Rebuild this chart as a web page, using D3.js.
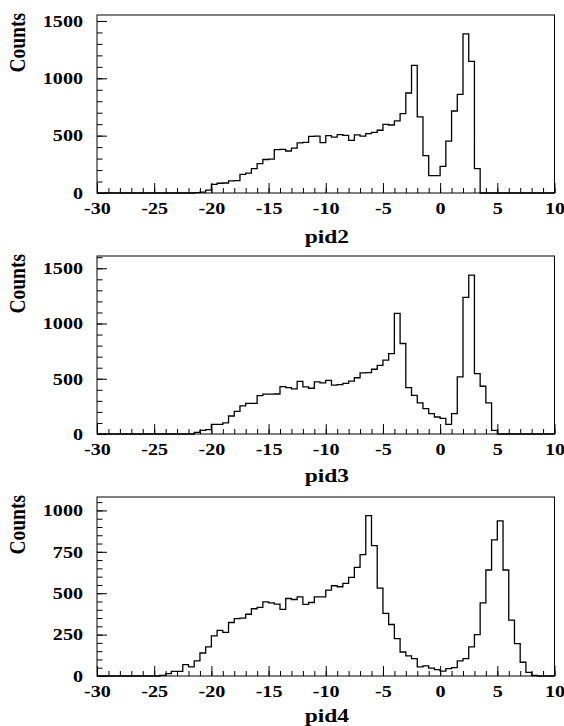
<!DOCTYPE html>
<html><head><meta charset="utf-8">
<script src="https://cdn.jsdelivr.net/npm/d3@7"></script>
<style>
body{margin:0;background:#fff}
svg text{font-family:"Liberation Serif","Times New Roman",serif;font-weight:bold;fill:#000}
</style></head><body>
<svg id="c" width="564" height="726"></svg>
<script>
// ---- data ----
const xDomain = [-30, 10];
const xTicks = [-30, -25, -20, -15, -10, -5, 0, 5, 10];
const binWidth = 0.5;
// counts per 0.5-wide bin, from -30 to 10 (80 bins)
const pid2Counts = [
  0,0,0,0,0,0,0,0,0,0, 0,0,0,0,0,0,0,3,8,25,
  75,85,87,105,108,163,174,212,256,292, 296,378,380,366,392,437,441,494,496,439,
  500,488,509,503,459,506,496,518,529,547, 599,593,628,692,872,1113,663,326,151,151,
  233,453,715,860,1387,1148,212,0,0,0, 0,0,0,0,0,0,0,0,0,0
];
const pid3Counts = [
  0,0,0,0,0,0,0,0,0,0, 0,0,0,0,0,0,0,15,33,39,
  88,88,100,163,205,254,278,278,347,360, 360,362,429,420,408,477,426,414,471,462,
  486,443,447,459,478,509,553,555,586,622, 668,728,1091,819,420,350,281,230,184,154,
  142,88,184,517,1236,1438,547,432,281,33, 0,0,0,0,0,0,0,0,0,0
];
const pid4Counts = [
  0,0,0,0,0,0,0,0,0,0, 0,4,14,28,28,69,55,91,139,176,
  242,276,264,323,347,349,373,406,414,448, 442,434,402,468,462,478,432,444,478,478,
  519,545,539,559,596,656,733,969,787,531, 378,311,226,145,121,105,55,61,48,38,
  30,44,50,91,105,176,250,442,640,822, 937,640,337,196,83,22,3,0,0,0
];
const yTicks2 = [0, 500, 1000, 1500];
const yTicks3 = [0, 500, 1000, 1500];
const yTicks4 = [0, 250, 500, 750, 1000];
const titles = ["pid2", "pid3", "pid4"];
const yLabel = "Counts";

// ---- layout ----
const panels = [
  {counts: pid2Counts, ticks: yTicks2, minor: 100, yMax: 1552, top: 15,  bottom: 193, titleY: 243, title: titles[0]},
  {counts: pid3Counts, ticks: yTicks3, minor: 100, yMax: 1611, top: 256, bottom: 434, titleY: 482, title: titles[1]},
  {counts: pid4Counts, ticks: yTicks4, minor: 50,  yMax: 1081, top: 497, bottom: 676, titleY: 722, title: titles[2]}
];
const left = 97, right = 554.5;
const sx = 1.22;           // horizontal stretch of the scanned glyphs
const tickFont = 16.5, titleFont = 19.5;

const svg = d3.select("#c");
const x = d3.scaleLinear().domain(xDomain).range([left, right]);
const edges = d3.range(0, pid2Counts.length + 1).map(i => xDomain[0] + i * binWidth);

panels.forEach(p => {
  const y = d3.scaleLinear().domain([0, p.yMax]).range([p.bottom, p.top]);
  const g = svg.append("g");

  // histogram outline
  const pts = edges.map((e, i) => [e, i < p.counts.length ? p.counts[i] : 0]);
  const line = d3.line().x(d => x(d[0])).y(d => y(d[1])).curve(d3.curveStepAfter);
  g.append("path").attr("d", line(pts)).attr("fill", "none")
    .attr("stroke", "#000").attr("stroke-width", 1.3);

  // x minor ticks
  g.append("g").attr("transform", `translate(0,${p.bottom})`)
    .call(d3.axisBottom(x).tickValues(d3.range(xDomain[0], xDomain[1] + 0.01, 1)).tickSize(-5).tickSizeOuter(0).tickFormat(""))
    .call(s => s.select(".domain").remove())
    .call(s => s.selectAll("line").attr("stroke", "#000"));
  // x major ticks + labels
  g.append("g").attr("transform", `translate(0,${p.bottom})`)
    .call(d3.axisBottom(x).tickValues(xTicks).tickSize(-10).tickSizeOuter(0).tickPadding(9.3).tickFormat(d => String(d)))
    .call(s => s.select(".domain").remove())
    .call(s => s.selectAll("line").attr("stroke", "#000"))
    .call(s => s.selectAll("text").attr("font-size", tickFont).attr("font-family", null)
      .attr("transform", `scale(${sx},1)`));

  // y minor ticks
  g.append("g").attr("transform", `translate(${left},0)`)
    .call(d3.axisLeft(y).tickValues(d3.range(0, p.yMax, p.minor)).tickSize(-5.5).tickSizeOuter(0).tickFormat(""))
    .call(s => s.select(".domain").remove())
    .call(s => s.selectAll("line").attr("stroke", "#000"));
  // y major ticks + labels
  g.append("g").attr("transform", `translate(${left},0)`)
    .call(d3.axisLeft(y).tickValues(p.ticks).tickSize(-10).tickSizeOuter(0).tickFormat(d => String(d)))
    .call(s => s.select(".domain").remove())
    .call(s => s.selectAll("line").attr("stroke", "#000"))
    .call(s => s.selectAll("text").attr("font-size", tickFont).attr("font-family", null)
      .attr("x", -14 / sx).attr("transform", `scale(${sx},1)`));

  // frame
  g.append("rect").attr("x", left).attr("y", p.top)
    .attr("width", right - left).attr("height", p.bottom - p.top)
    .attr("fill", "none").attr("stroke", "#000").attr("stroke-width", 1);

  // axis titles
  g.append("text").attr("text-anchor", "middle").attr("font-size", titleFont)
    .attr("transform", `translate(${(left + right) / 2 + 1},${p.titleY}) scale(1.2,1)`)
    .text(p.title);
  g.append("text").attr("text-anchor", "end").attr("font-size", titleFont)
    .attr("transform", `translate(25,${p.top - 2}) scale(1.15,1) rotate(-90)`)
    .text(yLabel);
});
</script>
</body></html>
